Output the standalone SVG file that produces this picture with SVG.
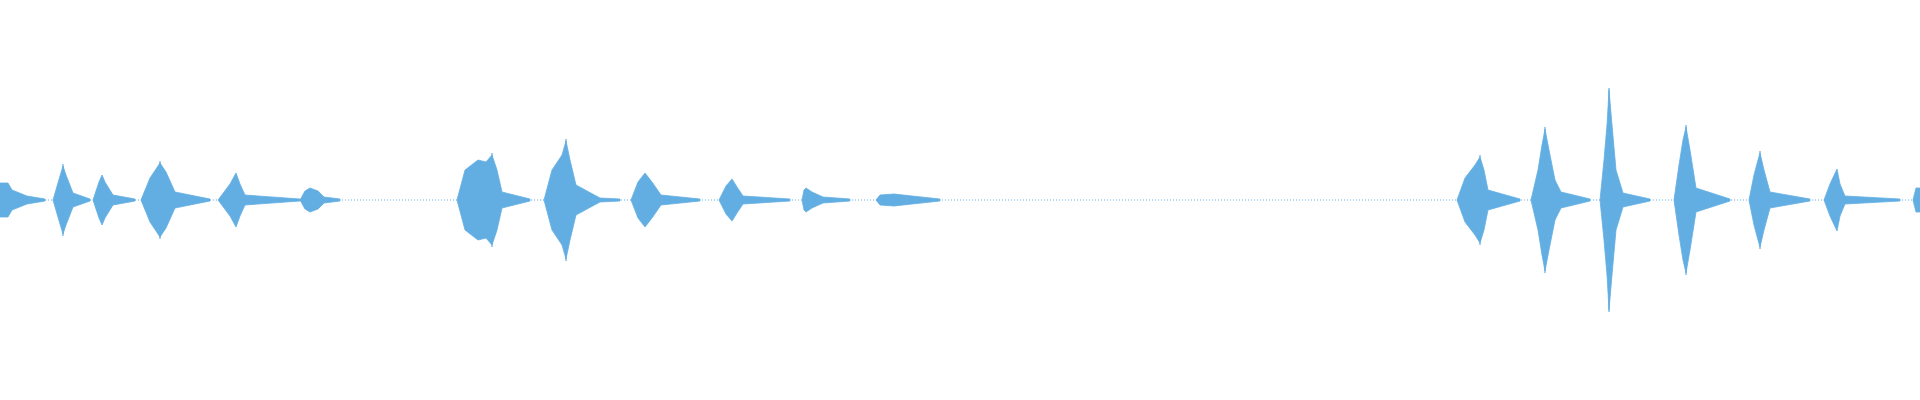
<svg xmlns="http://www.w3.org/2000/svg" width="1920" height="400" viewBox="0 0 1920 400">
<style>.b{fill:#62aee3;stroke:#62aee3;stroke-width:0.8}.s{stroke:#62aee3;stroke-width:1.2}.base{stroke:#62aee3;stroke-width:1;stroke-dasharray:1 2}</style>
<rect width="1920" height="400" fill="#fff"/>
<line class="base" x1="0" y1="200" x2="1920" y2="200"/>
<g id="bursts">
<path class="b" d="M0 183 L8 183 L12 190 L27 196 L45 199 L45 201 L27 204 L12 210 L8 217 L0 217Z"/>
<path class="b" d="M53 200 L60 176 L63 166 L66 175 L73 193 L90 199 L90 201 L73 207 L66 225 L63 234 L60 224Z"/>
<path class="b" d="M93 200 L99 182 L102 175 L105 182 L113 195 L135 199 L135 201 L113 205 L105 218 L102 225 L99 218Z"/>
<path class="b" d="M141 200 L150 178 L160 163 L166 172 L175 192 L210 199 L210 201 L175 208 L166 228 L160 237 L150 222Z"/>
<path class="b" d="M218 200 L230 184 L236 173 L240 184 L245 195 L300 199 L300 201 L245 205 L240 216 L236 227 L230 216Z"/>
<path class="b" d="M300 200 L305 191 L310 188 L318 191 L324 197 L340 199 L340 201 L324 203 L318 209 L310 212 L305 209Z"/>
<path class="b" d="M457 200 L465 170 L478 160 L486 162 L492 155 L497 170 L502 192 L530 199 L530 201 L502 208 L497 230 L492 245 L486 238 L478 240 L465 230Z"/>
<path class="b" d="M544 200 L552 170 L562 155 L566 141 L570 160 L576 185 L600 198 L620 199 L620 201 L600 202 L576 215 L570 240 L566 259 L562 245 L552 230Z"/>
<path class="b" d="M631 200 L638 182 L645 173 L652 182 L661 195 L700 199 L700 201 L661 205 L652 218 L645 227 L638 218Z"/>
<path class="b" d="M719 200 L726 186 L732 179 L737 187 L743 196 L790 199 L790 201 L743 204 L737 213 L732 221 L726 214Z"/>
<path class="b" d="M802 200 L804 190 L806 188 L812 192 L823 197 L850 199 L850 201 L823 203 L812 208 L806 212 L804 210Z"/>
<path class="b" d="M876 200 L880 195 L894 194 L912 196 L940 199 L940 201 L912 204 L894 206 L880 205Z"/>
<path class="b" d="M1457 200 L1465 178 L1475 165 L1480 157 L1484 170 L1488 190 L1520 199 L1520 201 L1488 210 L1484 230 L1480 243 L1475 235 L1465 222Z"/>
<path class="b" d="M1531 200 L1538 170 L1542 145 L1545 129 L1549 150 L1555 180 L1561 192 L1590 199 L1590 201 L1561 208 L1555 220 L1549 250 L1545 271 L1542 255 L1538 230Z"/>
<path class="b" d="M1600 200 L1604 160 L1607 125 L1609 90 L1612 125 L1616 170 L1623 193 L1650 199 L1650 201 L1623 207 L1616 230 L1612 275 L1609 310 L1607 275 L1604 240Z"/>
<path class="b" d="M1674 200 L1679 165 L1683 140 L1686 127 L1690 150 L1696 188 L1730 199 L1730 201 L1696 212 L1690 250 L1686 273 L1683 260 L1679 235Z"/>
<path class="b" d="M1749 200 L1754 175 L1758 160 L1760 153 L1764 170 L1770 192 L1810 199 L1810 201 L1770 208 L1764 230 L1760 247 L1758 240 L1754 225Z"/>
<path class="b" d="M1824 200 L1830 184 L1837 169 L1840 184 L1845 196 L1900 199 L1900 201 L1845 204 L1840 216 L1837 231 L1830 216Z"/>
<path class="b" d="M1913 200 L1916 188 L1920 188 L1920 212 L1916 212Z"/>
</g>
<g id="spikes">
<line class="s" x1="63" y1="164" x2="63" y2="236"/>
<line class="s" x1="160" y1="161" x2="160" y2="239"/>
<line class="s" x1="492" y1="153" x2="492" y2="247"/>
<line class="s" x1="566" y1="139" x2="566" y2="261"/>
<line class="s" x1="1480" y1="155" x2="1480" y2="245"/>
<line class="s" x1="1545" y1="127" x2="1545" y2="273"/>
<line class="s" x1="1609" y1="88" x2="1609" y2="312"/>
<line class="s" x1="1686" y1="125" x2="1686" y2="275"/>
<line class="s" x1="1760" y1="151" x2="1760" y2="249"/>
</g>
</svg>
